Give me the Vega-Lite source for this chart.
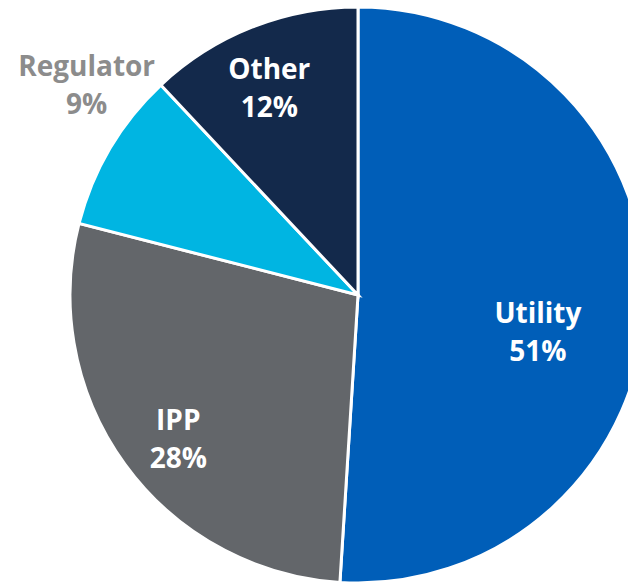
{
  "$schema": "https://vega.github.io/schema/vega-lite/v6.json",
  "autosize": {"type": "none"},
  "width": 540,
  "height": 578,
  "padding": {"left": 88, "top": 6, "right": 0, "bottom": 0},
  "background": "white",
  "config": {"view": {"stroke": null}},
  "data": {
    "values": [
      {"cat": "Utility", "value": 51, "ord": 1, "label": "Utility\n51%"},
      {"cat": "IPP", "value": 28, "ord": 2, "label": "IPP\n28%"},
      {"cat": "Regulator", "value": 9, "ord": 3, "label": "Regulator\n9%"},
      {"cat": "Other", "value": 12, "ord": 4, "label": "Other\n12%"}
    ]
  },
  "encoding": {
    "theta": {"field": "value", "type": "quantitative", "stack": true},
    "order": {"field": "ord", "type": "quantitative"}
  },
  "layer": [
    {
      "mark": {"type": "arc", "radius": 288, "stroke": "white", "strokeWidth": 3},
      "encoding": {
        "color": {
          "field": "cat",
          "type": "nominal",
          "scale": {
            "domain": ["Utility", "IPP", "Regulator", "Other"],
            "range": ["#005EB8", "#63666A", "#00B5E2", "#13294B"]
          },
          "legend": null
        }
      }
    },
    {
      "mark": {"type": "text", "radius": 180, "dy": 14, "font": "Open Sans", "fontSize": 28, "fontWeight": "bold", "lineBreak": "\n", "lineHeight": 38, "align": "center", "baseline": "middle", "fill": "white"},
      "encoding": {
        "text": {"field": "label"},
        "opacity": {"condition": {"test": "datum.cat === 'Utility'", "value": 1}, "value": 0}
      }
    },
    {
      "mark": {"type": "text", "radius": 232, "dx": 8, "dy": -9, "font": "Open Sans", "fontSize": 28, "fontWeight": "bold", "lineBreak": "\n", "lineHeight": 38, "align": "center", "baseline": "middle", "fill": "white"},
      "encoding": {
        "text": {"field": "label"},
        "opacity": {"condition": {"test": "datum.cat === 'IPP'", "value": 1}, "value": 0}
      }
    },
    {
      "mark": {"type": "text", "radius": 342, "dx": 23, "dy": -53, "font": "Open Sans", "fontSize": 28, "fontWeight": "bold", "lineBreak": "\n", "lineHeight": 38, "align": "center", "baseline": "middle", "fill": "#8C8C8C"},
      "encoding": {
        "text": {"field": "label"},
        "opacity": {"condition": {"test": "datum.cat === 'Regulator'", "value": 1}, "value": 0}
      }
    },
    {
      "mark": {"type": "text", "radius": 222, "dx": -7, "dy": -18, "font": "Open Sans", "fontSize": 28, "fontWeight": "bold", "lineBreak": "\n", "lineHeight": 38, "align": "center", "baseline": "middle", "fill": "white"},
      "encoding": {
        "text": {"field": "label"},
        "opacity": {"condition": {"test": "datum.cat === 'Other'", "value": 1}, "value": 0}
      }
    }
  ]
}
